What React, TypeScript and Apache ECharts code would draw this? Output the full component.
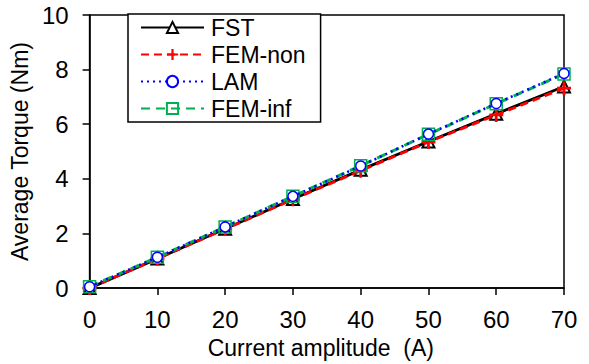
import React, { useEffect, useRef } from "react";
import * as echarts from "echarts";

const currents = [0, 10, 20, 30, 40, 50, 60, 70];
const fst = [0, 1.08, 2.17, 3.26, 4.33, 5.37, 6.38, 7.38];
const femNon = [0, 1.08, 2.16, 3.25, 4.3, 5.35, 6.34, 7.32];
const lam = [0.05, 1.13, 2.24, 3.36, 4.47, 5.64, 6.76, 7.86];
const femInf = [0.05, 1.13, 2.24, 3.36, 4.48, 5.63, 6.75, 7.84];
const legendNames = ["FST", "FEM-non", "LAM", "FEM-inf"];

const FONT = "'Liberation Sans', Arial, sans-serif";
const PLUS = "path://M4,0 H6 V4 H10 V6 H6 V10 H4 V6 H0 V4 H4 Z";

const pairs = (ys: number[]) => currents.map((x, i) => [x, ys[i]]);

export default function App() {
  const ref = useRef<HTMLDivElement>(null);
  useEffect(() => {
    if (!ref.current) return;
    const chart = echarts.init(ref.current, undefined, { renderer: "svg" });
    chart.setOption({
      animation: false,
      backgroundColor: "#fff",
      textStyle: { fontFamily: FONT },
      grid: {
        left: 85.5,
        right: 25,
        top: 15,
        bottom: 74,
        show: true,
        borderColor: "#000",
        borderWidth: 1.5,
        backgroundColor: "transparent",
      },
      legend: {
        data: legendNames,
        orient: "vertical",
        left: 128,
        top: 14,
        padding: [2, 15, 2, 12],
        itemGap: 4,
        itemWidth: 63,
        itemHeight: 14,
        borderColor: "#000",
        borderWidth: 1.5,
        backgroundColor: "#fff",
        textStyle: { fontFamily: FONT, fontSize: 23, color: "#000", padding: [0, 0, 0, 2] },
      },
      xAxis: {
        type: "value",
        min: 0,
        max: 70,
        interval: 10,
        name: "Current amplitude  (A)",
        nameLocation: "middle",
        nameGap: 42,
        nameTextStyle: { fontFamily: FONT, fontSize: 23, color: "#000", padding: [0, 12, 0, 0] },
        axisLine: { lineStyle: { color: "#000", width: 1.5 } },
        axisTick: { inside: false, length: 7, lineStyle: { color: "#000", width: 1.5 } },
        axisLabel: { fontFamily: FONT, fontSize: 24, color: "#000", margin: 19 },
        splitLine: { show: false },
      },
      yAxis: {
        type: "value",
        min: 0,
        max: 10,
        interval: 2,
        name: "Average Torque (Nm)",
        nameLocation: "middle",
        nameGap: 49,
        nameTextStyle: { fontFamily: FONT, fontSize: 23, color: "#000" },
        axisLine: { lineStyle: { color: "#000", width: 1.5 } },
        axisTick: { inside: false, length: 7, lineStyle: { color: "#000", width: 1.5 } },
        axisLabel: { fontFamily: FONT, fontSize: 24, color: "#000", margin: 21 },
        splitLine: { show: false },
      },
      series: [
        {
          name: "FST",
          type: "line",
          data: pairs(fst),
          symbol: "triangle",
          symbolSize: 12,
          lineStyle: { color: "#000", width: 2.8, type: "solid" },
          itemStyle: { color: "#fff", borderColor: "#000", borderWidth: 2 },
          z: 2,
        },
        {
          name: "FEM-non",
          type: "line",
          data: pairs(femNon),
          symbol: PLUS,
          symbolSize: 14,
          lineStyle: { color: "#ff0000", width: 2.8, type: [8, 5] },
          itemStyle: { color: "#ff0000", borderWidth: 0 },
          z: 3,
        },
        {
          name: "FEM-inf",
          type: "line",
          data: pairs(femInf),
          symbol: "rect",
          symbolSize: 12,
          lineStyle: { color: "#00b050", width: 3, type: [9, 6] },
          itemStyle: { color: "rgba(255,255,255,0)", borderColor: "#00b050", borderWidth: 1.5 },
          z: 4,
        },
        {
          name: "LAM",
          type: "line",
          data: pairs(lam),
          symbol: "circle",
          symbolSize: 10,
          lineStyle: { color: "#0000ff", width: 2.5, type: [2, 4] },
          itemStyle: { color: "#fff", borderColor: "#0000ff", borderWidth: 1.5 },
          z: 5,
        },
      ],
    });
    return () => chart.dispose();
  }, []);
  return (
    <div
      ref={ref}
      style={{ position: "absolute", left: 0, top: 0, width: 589, height: 364 }}
    />
  );
}
